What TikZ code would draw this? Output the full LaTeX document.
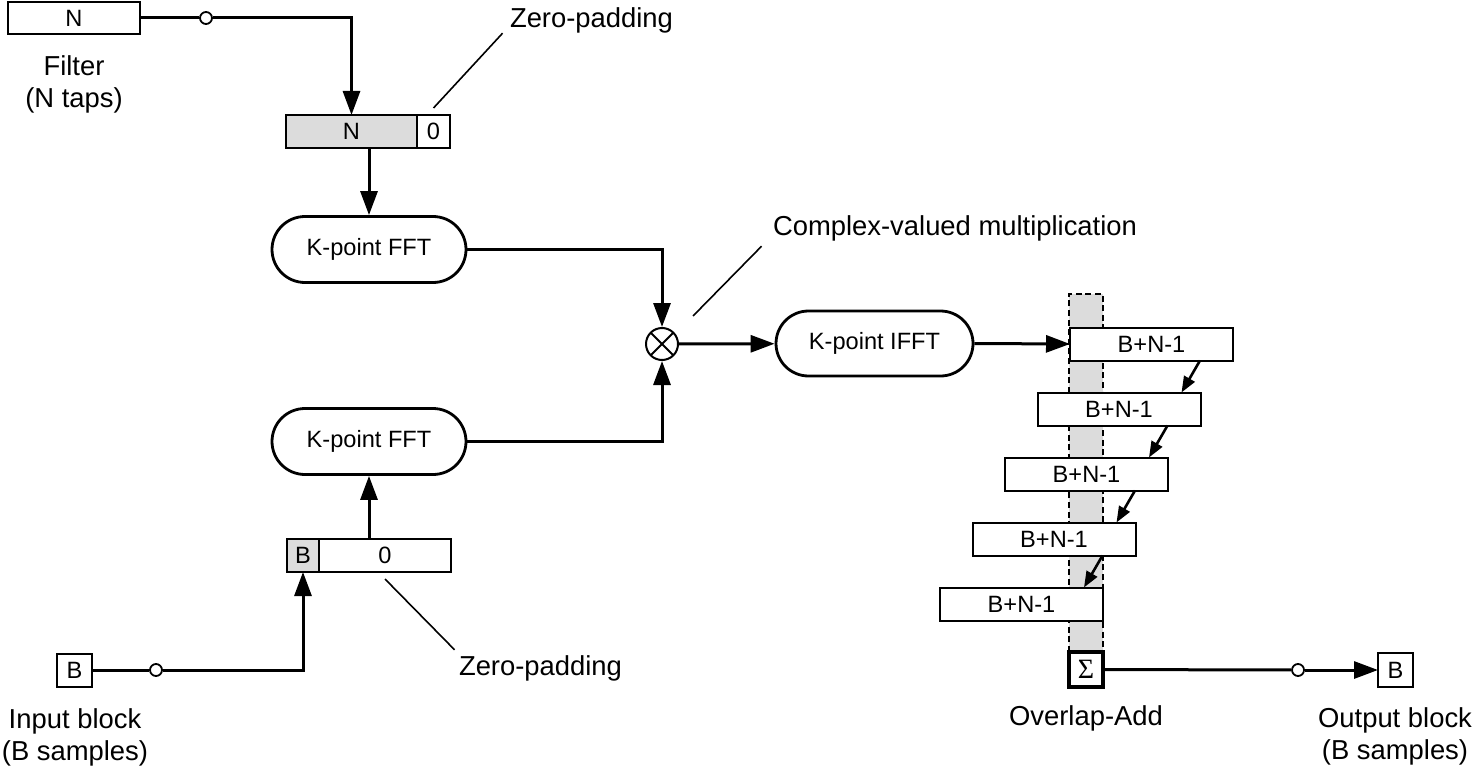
\documentclass[tikz,border=0pt]{standalone}
\usepackage{fontspec}
\setmainfont{Liberation Sans}
\newfontfamily\sigfont{Liberation Serif}
\usetikzlibrary{arrows.meta,positioning,shapes.misc,calc}
\definecolor{cellgray}{HTML}{DCDCDC}

\begin{document}
\begin{tikzpicture}[x=0.5pt,y=-0.5pt,
  boxfont/.style={font=\fontsize{11.8}{13}\selectfont},
  blk/.style={draw,line width=1pt,fill=white,inner sep=0pt,outer sep=0pt,boxfont},
  pill/.style={draw,rounded rectangle,line width=1.4pt,minimum width=97pt,
    minimum height=33pt,inner sep=0pt,boxfont},
  tap/.style={draw,circle,fill=white,line width=0.9pt,minimum size=6pt,inner sep=0pt},
  flow/.style={-{Triangle[length=12pt,width=8.5pt]},line width=1.5pt},
  hop/.style={-{Triangle[length=8pt,width=6pt]},line width=1.3pt},
  wire/.style={line width=1.5pt},
  leader/.style={line width=0.8pt},
  lbl/.style={inner sep=0pt,align=center,font=\fontsize{13.7}{16}\selectfont}]
\useasboundingbox (0,0) rectangle (1475,775);

% filter branch
\node[blk,minimum width=66pt,minimum height=16pt] (filt) at (74,18) {N};
\node[lbl] (filtlbl) at (74,84) {Filter\\(N taps)};
\node[tap] (ftap) at (206,18) {};
\node[blk,fill=cellgray,minimum width=65.5pt,minimum height=16.5pt] (ncell) at (351.5,131.5) {N};
\node[blk,minimum width=16.5pt,minimum height=16.5pt,right=0pt of ncell] (nzero) {0};
\node[lbl] (zp1) at (591.5,20) {Zero-padding};
\node[pill] (fft1) at (369,249.5) {K-point FFT};

% input branch
\node[blk,minimum width=17.5pt,minimum height=16.5pt] (inb) at (74.5,670) {B};
\node[lbl] (inlbl) at (75,737) {Input block\\(B samples)};
\node[tap] (itap) at (156,670) {};
\node[blk,fill=cellgray,minimum width=16pt,minimum height=16.5pt] (bcell) at (303,555.5) {B};
\node[blk,minimum width=66pt,minimum height=16.5pt,right=0pt of bcell] (bzero) {0};
\node[lbl] (zp2) at (540.5,668) {Zero-padding};
\node[pill] (fft2) at (369,441.5) {K-point FFT};

% product and inverse transform
\node[draw,circle,line width=1pt,minimum size=16pt,inner sep=0pt,
  path picture={\draw[line width=0.9pt]
    (path picture bounding box.north west) -- (path picture bounding box.south east)
    (path picture bounding box.north east) -- (path picture bounding box.south west);}] (mult) at (662,344) {};
\node[lbl] (cmlbl) at (955,228) {Complex-valued multiplication};
\node[pill,minimum width=98.5pt,minimum height=32.5pt] (ifft) at (874.5,343.5) {K-point IFFT};

% overlap-add
\node[fill=cellgray,minimum width=17pt,minimum height=179pt,inner sep=0pt,outer sep=0pt] (strip) at (1086,473) {};
\draw[line width=1.4pt,dash pattern=on 3pt off 1.8pt]
  (strip.south west) -- (strip.north west) -- (strip.north east) -- (strip.south east);
\node[blk,minimum width=81.5pt,minimum height=16.5pt] (ola1) at (1151.5,344) {B+N-1};
\node[blk,minimum width=81.5pt,minimum height=16.5pt] (ola2) at (1119,409) {B+N-1};
\node[blk,minimum width=81.5pt,minimum height=16.5pt] (ola3) at (1086.5,474) {B+N-1};
\node[blk,minimum width=81.5pt,minimum height=16.5pt] (ola4) at (1054,539) {B+N-1};
\node[blk,minimum width=81.5pt,minimum height=16.5pt] (ola5) at (1021.5,604) {B+N-1};
\node[blk,line width=1.6pt,minimum width=17pt,minimum height=17.5pt,font=\sigfont\fontsize{14}{14}\selectfont] (sum) at (1086,669.5) {Σ};
\node[lbl] (olalbl) at (1086,718) {Overlap-Add};
\node[tap] (otap) at (1298,670) {};
\node[blk,minimum width=17.5pt,minimum height=17pt] (outb) at (1395.5,670) {B};
\node[lbl] (outlbl) at (1395,736) {Output block\\(B samples)};

% connectors
\draw[wire] (filt) -- (ftap);
\draw[flow] (ftap) -| (ncell.north);
\draw[flow] (fft1.north |- ncell.south) -- (fft1.north);
\draw[flow] (fft1) -| (mult);
\draw[wire] (inb) -- (itap);
\draw[flow] (itap) -| (bcell.south);
\draw[flow] (fft2.south |- bzero.north) -- (fft2.south);
\draw[flow] (fft2) -| (mult);
\draw[flow] (mult) -- (ifft);
\draw[flow] (ifft.east) -- (ola1.west);
\draw[hop] ([xshift=-16.5pt]ola1.south east) -- ([xshift=-9.5pt]ola2.north east);
\draw[hop] ([xshift=-16.5pt]ola2.south east) -- ([xshift=-9.5pt]ola3.north east);
\draw[hop] ([xshift=-16.5pt]ola3.south east) -- ([xshift=-9.5pt]ola4.north east);
\draw[hop] ([xshift=-16.5pt]ola4.south east) -- ([xshift=-9.5pt]ola5.north east);
\draw[wire] (sum) -- (otap);
\draw[flow] (otap) -- (outb);

% leaders
\draw[leader] ([yshift=3.5pt]nzero.north) -- ([xshift=-3.5pt]zp1.south west);
\draw[leader] ([yshift=-3.5pt]bzero.south) -- ([xshift=-2pt,yshift=2.5pt]zp2.north west);
\draw[leader] ([xshift=9.5pt,yshift=8pt]mult.north east) -- ([xshift=-5.5pt,yshift=-2.5pt]cmlbl.south west);
\end{tikzpicture}
\end{document}
